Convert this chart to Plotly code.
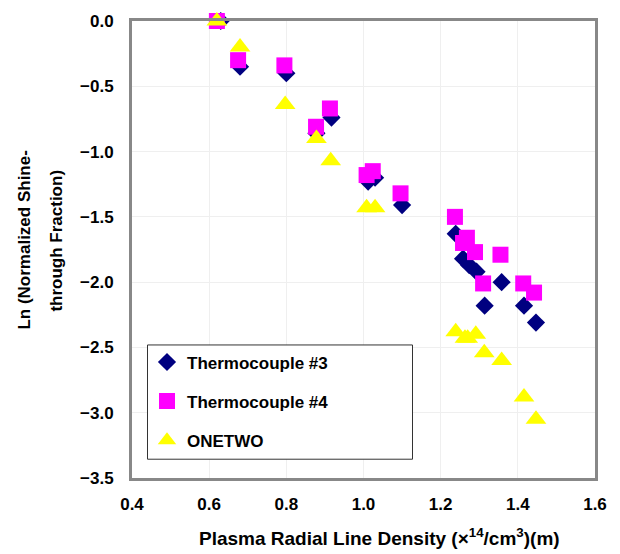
import plotly.graph_objects as go

# Thermocouple #3 (diamonds)
tc3_x = [0.63, 0.68, 0.80, 0.917, 0.878, 1.012, 1.03, 1.10, 1.239, 1.258, 1.274, 1.293, 1.358, 1.314, 1.416, 1.447]
tc3_y = [0.0, -0.35, -0.40, -0.74, -0.86, -1.23, -1.20, -1.41, -1.63, -1.82, -1.87, -1.92, -2.00, -2.18, -2.18, -2.31]

# Thermocouple #4 (squares)
tc4_x = [0.62, 0.675, 0.795, 0.913, 0.877, 1.008, 1.024, 1.096, 1.237, 1.258, 1.268, 1.289, 1.355, 1.31, 1.414, 1.442]
tc4_y = [0.0, -0.30, -0.34, -0.67, -0.81, -1.18, -1.15, -1.32, -1.50, -1.70, -1.66, -1.77, -1.79, -2.01, -2.01, -2.08]

# ONETWO (triangles)
onetwo_x = [0.62, 0.68, 0.797, 0.878, 0.915, 1.008, 1.03, 1.239, 1.263, 1.270, 1.291, 1.313, 1.358, 1.416, 1.447]
onetwo_y = [0.0, -0.20, -0.64, -0.90, -1.07, -1.43, -1.43, -2.38, -2.43, -2.43, -2.40, -2.54, -2.60, -2.88, -3.05]

x_ticks = [0.4, 0.6, 0.8, 1.0, 1.2, 1.4, 1.6]
y_ticks = [0.0, -0.5, -1.0, -1.5, -2.0, -2.5, -3.0, -3.5]

FONT = "Liberation Sans, Arial, sans-serif"

# plot area in pixels (for placing paper-referenced items)
L, R, T, B = 132, 595, 16, 478
PW, PH = R - L, B - T


def px(xp):
    return (xp - L) / PW


def py(yp):
    return (B - yp) / PH


fig = go.Figure()
fig.add_trace(go.Scatter(x=tc3_x, y=tc3_y, mode="markers", name="Thermocouple #3",
                         legendgroup="a", cliponaxis=False,
                         marker=dict(symbol="diamond", size=14, color="#000080", line=dict(width=0))))
fig.add_trace(go.Scatter(x=tc4_x, y=tc4_y, mode="markers", name="Thermocouple #4",
                         legendgroup="b", cliponaxis=False,
                         marker=dict(symbol="square", size=16, color="#FF00FF", line=dict(width=0))))
fig.add_trace(go.Scatter(x=onetwo_x, y=onetwo_y, mode="markers", name="ONETWO",
                         legendgroup="c", cliponaxis=False,
                         marker=dict(symbol="triangle-up", size=18, color="#FFFF00", line=dict(width=0))))

fig.update_layout(
    width=620, height=554,
    margin=dict(l=L, r=620 - R, t=T, b=554 - B),
    paper_bgcolor="white", plot_bgcolor="white",
    font=dict(family=FONT, size=17, color="black"),
    showlegend=True,
    legend=dict(x=px(147), y=py(343), xanchor="left", yanchor="top",
                bgcolor="rgba(0,0,0,0)", borderwidth=0,
                font=dict(family=FONT, size=17, color="black", weight="bold"),
                tracegroupgap=14, itemwidth=30),
    xaxis=dict(range=[0.4, 1.6], tickvals=x_ticks, ticktext=[f"{v:.1f}" for v in x_ticks],
               showgrid=True, gridcolor="#efefef", gridwidth=1, zeroline=False,
               showline=True, mirror=True, linecolor="#888888", linewidth=3,
               ticks="", ticklabelstandoff=9,
               tickfont=dict(family=FONT, size=17, color="black", weight="bold")),
    yaxis=dict(range=[-3.5, 0.0], tickvals=y_ticks, ticktext=[f"{v:.1f}".replace("-", "\u2212") for v in y_ticks],
               showgrid=True, gridcolor="#efefef", gridwidth=1, zeroline=False,
               showline=True, mirror=True, linecolor="#888888", linewidth=3,
               ticks="", ticklabelstandoff=12,
               tickfont=dict(family=FONT, size=17, color="black", weight="bold")),
)

# legend frame (wider than the auto-sized legend, as in the reference)
fig.add_shape(type="rect", xref="paper", yref="paper",
              x0=px(147.5), x1=px(412.5), y0=py(459), y1=py(343.5),
              line=dict(color="#333333", width=1), fillcolor="white", layer="above")

fig.add_annotation(text="Plasma Radial Line Density (\u00d7<sup>14</sup>/cm<sup>3</sup>)(m)",
                   xref="paper", yref="paper", x=px(379), y=py(538),
                   xanchor="center", yanchor="middle", showarrow=False,
                   font=dict(family=FONT, size=19, color="black", weight="bold"))
fig.add_annotation(text="Ln (Normalized Shine-",
                   xref="paper", yref="paper", x=px(25), y=py(238),
                   xanchor="center", yanchor="middle", showarrow=False, textangle=-90,
                   font=dict(family=FONT, size=17, color="black", weight="bold"))
fig.add_annotation(text="through Fraction)",
                   xref="paper", yref="paper", x=px(57), y=py(238),
                   xanchor="center", yanchor="middle", showarrow=False, textangle=-90,
                   font=dict(family=FONT, size=17, color="black", weight="bold"))

fig.write_html("out.html")
